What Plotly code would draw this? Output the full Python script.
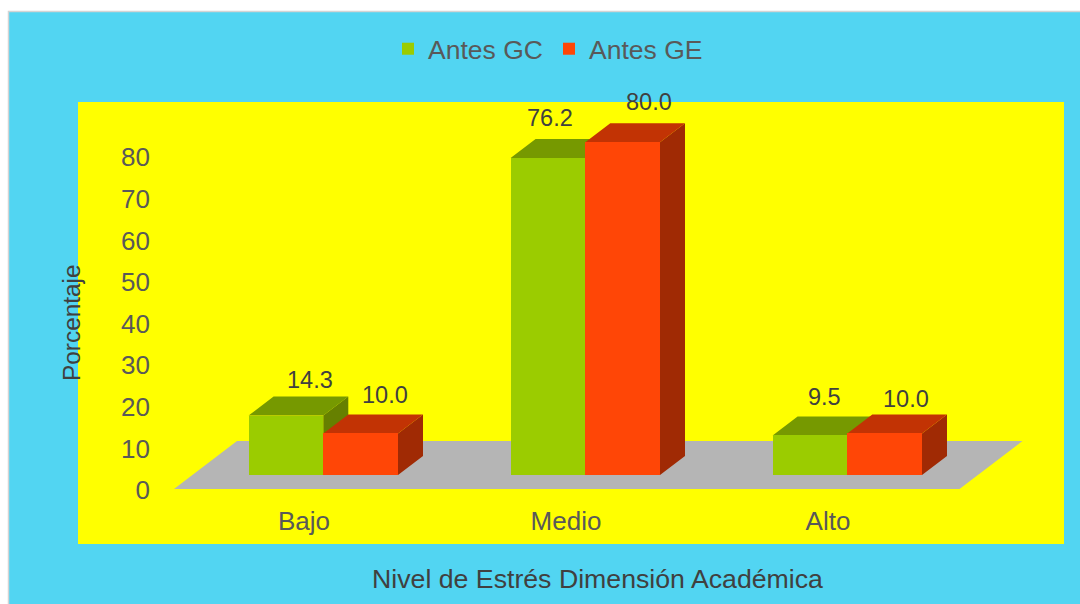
import plotly.graph_objects as go

W, H = 1080, 604
categories = ["Bajo", "Medio", "Alto"]
series_names = ["Antes GC", "Antes GE"]
gc_values = [14.3, 76.2, 9.5]
ge_values = [10.0, 80.0, 10.0]
y_ticks = [0, 10, 20, 30, 40, 50, 60, 70, 80]

# styles
CYAN, YELLOW, FLOOR = "#52D5F2", "#FFFF00", "#B5B5B5"
GC = dict(front="#9BCC00", top="#769900", side="#668000")
GE = dict(front="#FF4606", top="#C23304", side="#A02A04")
TICK = "#595959"
LABEL = "#404040"
FONT = "Liberation Sans, Arial, sans-serif"

# pixel geometry -> axis units
PLOT_L, PLOT_R, PLOT_T, PLOT_B = 78, 1064, 102, 544
PX_X = 262.0    # px per category
PX_Y = 4.16     # px per percentage unit
X0_PX, Y0_PX = 304, 489
x_range = [(PLOT_L - X0_PX) / PX_X, (PLOT_R - X0_PX) / PX_X]
y_range = [(Y0_PX - PLOT_B) / PX_Y, (Y0_PX - PLOT_T) / PX_Y]

dx = 1 / PX_X
dy = 1 / PX_Y
BAR_W = 74.7 * dx
FRONT_X, FRONT_Y = 19.3 * dx, 14 * dy   # front of bars relative to floor front edge
DEPTH_X, DEPTH_Y = 25 * dx, 19 * dy     # bar depth
FLOOR_X, FLOOR_Y = 63 * dx, 48 * dy     # floor depth


def faces(values, offset):
    side_x, side_y, top_x, top_y = [], [], [], []
    for i, v in enumerate(values):
        x0 = i + FRONT_X + offset
        x1 = x0 + BAR_W
        y0 = FRONT_Y
        y1 = FRONT_Y + v
        side_x += [x1, x1 + DEPTH_X, x1 + DEPTH_X, x1, x1, None]
        side_y += [y0, y0 + DEPTH_Y, y1 + DEPTH_Y, y1, y0, None]
        top_x += [x0, x0 + DEPTH_X, x1 + DEPTH_X, x1, x0, None]
        top_y += [y1, y1 + DEPTH_Y, y1 + DEPTH_Y, y1, y1, None]
    return side_x, side_y, top_x, top_y


def poly(x, y, color):
    return go.Scatter(x=x, y=y, mode="lines", fill="toself", fillcolor=color,
                      line=dict(width=0, color=color), showlegend=False,
                      hoverinfo="skip", xaxis="x", yaxis="y")


fig = go.Figure()

# floor
floor_left = (174 - X0_PX) * dx
floor_right = (959.5 - X0_PX) * dx
fig.add_trace(poly([floor_left, floor_left + FLOOR_X, floor_right + FLOOR_X, floor_right, floor_left],
                   [0, FLOOR_Y, FLOOR_Y, 0, 0], FLOOR))

# depth faces, back series first
for values, offset, col in ((gc_values, -BAR_W, GC), (ge_values, 0, GE)):
    sx, sy, tx, ty = faces(values, offset)
    fig.add_trace(poly(sx, sy, col["side"]))
    fig.add_trace(poly(tx, ty, col["top"]))

# front faces on an overlay so they cover the neighbour's side
x_pos = list(range(len(categories)))
for name, values, offset, col in ((series_names[0], gc_values, -BAR_W, GC),
                                  (series_names[1], ge_values, 0, GE)):
    fig.add_trace(go.Bar(
        name=name,
        x=[i + FRONT_X + offset + BAR_W / 2 for i in x_pos],
        y=values, base=FRONT_Y, width=BAR_W,
        marker=dict(color=col["front"], line=dict(width=0)),
        xaxis="x2", yaxis="y2",
    ))

# data labels (pixel nudges)
gc_nudge = [(24, 36), (2, 40), (15, 38)]
ge_nudge = [(24.5, 38), (26, 40), (21, 34)]
annotations = []
for values, offset, nudge in ((gc_values, -BAR_W, gc_nudge), (ge_values, 0, ge_nudge)):
    for i, v in enumerate(values):
        annotations.append(dict(
            x=i + FRONT_X + offset + BAR_W / 2, y=FRONT_Y + v, xref="x", yref="y",
            xshift=nudge[i][0], yshift=nudge[i][1], text=f"{v:.1f}", showarrow=False,
            xanchor="center", yanchor="middle", font=dict(size=23.5, color=LABEL, family=FONT),
        ))

annotations.append(dict(x=597 / W, y=1 - 579 / H, xref="paper", yref="paper",
                        text="Nivel de Estrés Dimensión Académica", showarrow=False,
                        xanchor="center", yanchor="middle",
                        font=dict(size=26.7, color=LABEL, family=FONT)))
annotations.append(dict(x=71 / W, y=1 - 323 / H, xref="paper", yref="paper",
                        text="Porcentaje", showarrow=False, textangle=-90,
                        xanchor="center", yanchor="middle",
                        font=dict(size=24.4, color=LABEL, family=FONT)))

shapes = [
    dict(type="rect", xref="paper", yref="paper", x0=8.5 / W, x1=1.01, y0=-0.01, y1=1 - 11.5 / H,
         fillcolor=CYAN, line=dict(color="#D4D4D4", width=1.5), layer="below"),
    dict(type="rect", xref="paper", yref="paper", x0=PLOT_L / W, x1=PLOT_R / W,
         y0=1 - PLOT_B / H, y1=1 - PLOT_T / H, fillcolor=YELLOW, line=dict(width=0), layer="below"),
]

fig.update_layout(
    width=W, height=H,
    margin=dict(l=0, r=0, t=0, b=0),
    paper_bgcolor="white", plot_bgcolor="rgba(0,0,0,0)",
    font=dict(family=FONT, color=TICK),
    barmode="overlay",
    bargap=0,
    shapes=shapes,
    annotations=annotations,
    legend=dict(orientation="h", x=388 / W, y=1 - 25 / H, xanchor="left", yanchor="top",
                font=dict(size=26.5, color=TICK), bgcolor="rgba(0,0,0,0)",
                traceorder="normal", entrywidthmode="pixels", entrywidth=116),
    xaxis=dict(domain=[PLOT_L / W, PLOT_R / W], range=x_range, tickmode="array",
               tickvals=x_pos, ticktext=categories, showgrid=False, zeroline=False,
               showline=False, ticks="", anchor="free", position=1 - 503 / H,
               tickfont=dict(size=26, color=TICK, family=FONT)),
    yaxis=dict(domain=[1 - PLOT_B / H, 1 - PLOT_T / H], range=y_range, tickmode="array",
               tickvals=y_ticks, showgrid=False, zeroline=False, showline=False, ticks="",
               anchor="free", position=150 / W, ticklabelshift=1,
               tickfont=dict(size=26, color=TICK, family=FONT)),
    xaxis2=dict(overlaying="x", domain=[PLOT_L / W, PLOT_R / W], range=x_range, visible=False,
                anchor="y2"),
    yaxis2=dict(overlaying="y", domain=[1 - PLOT_B / H, 1 - PLOT_T / H], range=y_range,
                visible=False, anchor="x2"),
)

fig.write_html("out.html", config={"displayModeBar": False},
               post_script="document.body.style.margin='0';document.documentElement.style.overflow='hidden';")
